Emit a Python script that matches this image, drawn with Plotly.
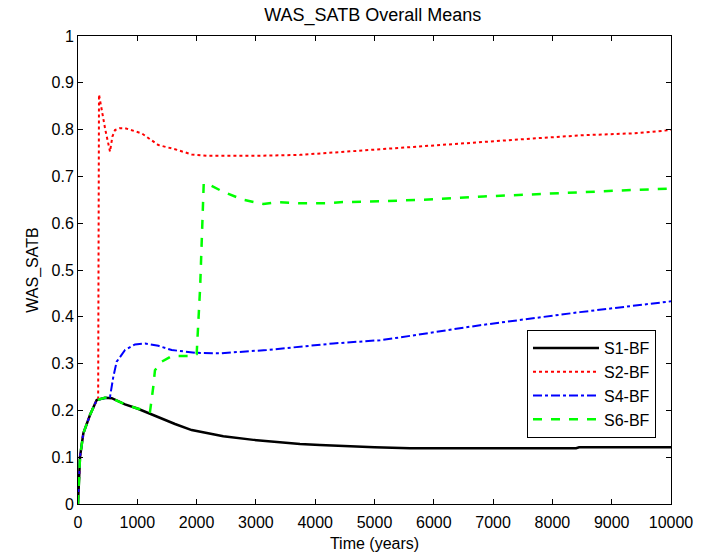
import plotly.graph_objects as go

# ---- data ----
s1_t = [0, 5, 34, 90, 202, 315, 455, 570, 793, 1000, 1186, 1400, 1636, 1917, 2198, 2450, 2957, 3400, 3744,
        4080, 4500, 5000, 5600, 6500, 7500, 8400, 8450, 9200, 10000]
s1_v = [0.0, 0.016, 0.101, 0.151, 0.190, 0.222, 0.227, 0.226, 0.213, 0.204, 0.194, 0.183, 0.171, 0.158, 0.151,
        0.145, 0.137, 0.132, 0.128, 0.126, 0.123, 0.121, 0.119, 0.119, 0.119, 0.119, 0.121, 0.121, 0.121]

s2_t = [0, 5, 34, 90, 202, 315, 340, 354, 400, 460, 540, 580, 624, 700, 793, 1074, 1355, 1636, 1917, 2198,
        2423, 3000, 3744, 4305, 5149, 5992, 6835, 7673, 8516, 9359, 10000]
s2_v = [0.0, 0.016, 0.101, 0.151, 0.190, 0.222, 0.225, 0.875, 0.840, 0.800, 0.753, 0.785, 0.799, 0.803, 0.803,
        0.792, 0.767, 0.758, 0.747, 0.744, 0.744, 0.744, 0.746, 0.751, 0.760, 0.767, 0.774, 0.781, 0.788,
        0.792, 0.799]

s4_t = [0, 5, 34, 90, 202, 315, 455, 540, 596, 652, 793, 961, 1130, 1355, 1580, 1804, 2001, 2394, 3181,
        4305, 5093, 5430, 6779, 8465, 10000]
s4_v = [0.0, 0.016, 0.101, 0.151, 0.190, 0.222, 0.227, 0.229, 0.272, 0.304, 0.329, 0.341, 0.343, 0.338,
        0.329, 0.325, 0.323, 0.322, 0.329, 0.343, 0.350, 0.356, 0.382, 0.410, 0.433]

s6_t = [0, 5, 34, 90, 202, 315, 455, 570, 793, 1000, 1214, 1270, 1298, 1411, 1580, 1944, 2001, 2060, 2120,
        2170, 2450, 2788, 3125, 3350, 3744, 4193, 4418, 5149, 5992, 6835, 7673, 8516, 9359, 10000]
s6_v = [0.0, 0.016, 0.101, 0.151, 0.190, 0.222, 0.227, 0.226, 0.213, 0.204, 0.197, 0.251, 0.286, 0.304,
        0.316, 0.316, 0.320, 0.464, 0.685, 0.685, 0.667, 0.650, 0.641, 0.645, 0.6425, 0.6425, 0.645, 0.647,
        0.651, 0.657, 0.662, 0.666, 0.671, 0.674]

series_names = ["S1-BF", "S2-BF", "S4-BF", "S6-BF"]
x_ticks = [0, 1000, 2000, 3000, 4000, 5000, 6000, 7000, 8000, 9000, 10000]
y_ticks = [0, 0.1, 0.2, 0.3, 0.4, 0.5, 0.6, 0.7, 0.8, 0.9, 1]
y_tick_text = ["0", "0.1", "0.2", "0.3", "0.4", "0.5", "0.6", "0.7", "0.8", "0.9", "1"]

FONT = "Liberation Sans, Arial, sans-serif"

fig = go.Figure()
styles = [
    dict(color="#000000", dash="solid", width=2.5),
    dict(color="#ff0000", dash="dot", width=2),
    dict(color="#0000ff", dash="dashdot", width=2),
    dict(color="#00ff00", dash="dash", width=2.5),
]
for name, t, v, st in zip(series_names, [s1_t, s2_t, s4_t, s6_t], [s1_v, s2_v, s4_v, s6_v], styles):
    fig.add_trace(go.Scatter(x=t, y=v, mode="lines", name=name, line=st))

axis_common = dict(
    showline=True, linecolor="black", linewidth=1, mirror="ticks",
    ticks="inside", ticklen=5, tickcolor="black", tickwidth=1,
    showgrid=False, zeroline=False, automargin=False,
    tickfont=dict(family=FONT, size=16, color="black"),
)

fig.update_layout(
    width=706, height=553,
    margin=dict(l=78, r=35, t=36, b=49),
    paper_bgcolor="white", plot_bgcolor="white",
    font=dict(family=FONT, size=16, color="black"),
    title=dict(text="WAS_SATB Overall Means", x=0.528, xanchor="center", y=0.973, yanchor="middle",
               font=dict(family=FONT, size=18, color="black")),
    xaxis=dict(range=[0, 10000], tickvals=x_ticks, ticktext=[str(x) for x in x_ticks],
               ticklabelstandoff=4,
               title=dict(text="Time (years)", standoff=7, font=dict(family=FONT, size=16)), **axis_common),
    yaxis=dict(range=[0, 1], tickvals=y_ticks, ticktext=y_tick_text,
               title=dict(text="WAS_SATB", standoff=8, font=dict(family=FONT, size=16)), **axis_common),
    legend=dict(x=0.9747, y=0.141, xanchor="right", yanchor="bottom",
                bgcolor="white", bordercolor="black", borderwidth=1,
                font=dict(family=FONT, size=16), itemwidth=66, tracegroupgap=0),
    showlegend=True,
)

fig.write_html("out.html")
